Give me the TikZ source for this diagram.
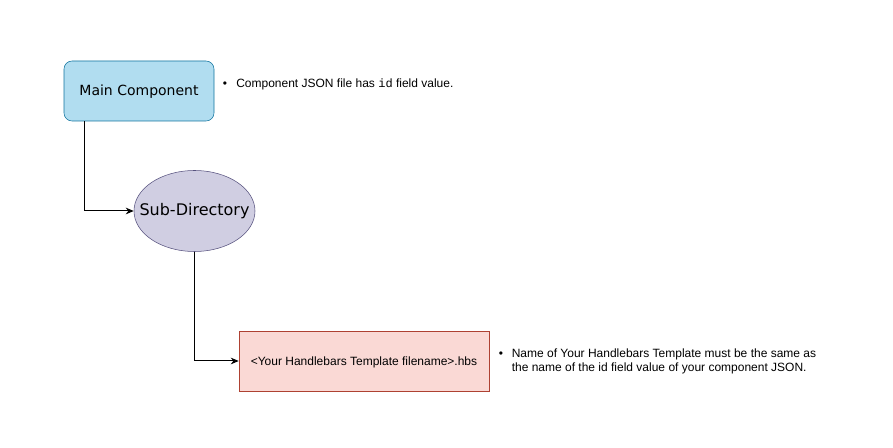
\documentclass[tikz,border=0pt]{standalone}
\usepackage{fontspec}
\setmainfont{Liberation Sans}
\newfontfamily\dejavu{DejaVu Sans}
\newfontfamily\monofont{Liberation Mono}
\usetikzlibrary{shapes.geometric,arrows.meta}
\definecolor{bluefill}{HTML}{B1DDF0}
\definecolor{bluedraw}{HTML}{10739E}
\definecolor{purpfill}{HTML}{D0CEE2}
\definecolor{purpdraw}{HTML}{56517E}
\definecolor{redfill}{HTML}{FAD9D5}
\definecolor{reddraw}{HTML}{AE4132}
\tikzset{
  mainbox/.style={draw=bluedraw,fill=bluefill,rounded corners=6pt,minimum width=112.5pt,minimum height=45pt,inner sep=0pt,
    font=\dejavu\fontsize{10.5}{12}\selectfont,text height=0.73em,text depth=0pt},
  subell/.style={ellipse,draw=purpdraw,fill=purpfill,minimum width=90.75pt,minimum height=60.75pt,inner sep=0pt,
    font=\dejavu\fontsize{12}{14}\selectfont,text height=0.73em,text depth=0pt},
  hbsbox/.style={draw=reddraw,fill=redfill,minimum width=187.5pt,minimum height=45pt,inner sep=0pt,
    font=\fontsize{9}{11}\selectfont,text height=0.72em,text depth=0pt},
  note/.style={anchor=base west,align=left,inner sep=0pt,font=\fontsize{9}{10.9}\selectfont},
  bul/.style={anchor=base,inner sep=0pt,font=\fontsize{9}{10.9}\selectfont},
  conn/.style={draw=black,line width=0.75pt,-{Stealth[length=6pt,width=5pt]}},
}
\begin{document}
\begin{tikzpicture}[x=0.75pt,y=-0.75pt]
\useasboundingbox (0,0) rectangle (893,448);
\node[mainbox] (main) at (139,91) {Main Component};
\node[subell] (sub) at (194.5,211) {\makebox[0pt]{Sub-Directory}};
\node[hbsbox] (hbs) at (364,361) {<Your Handlebars Template filename>.hbs};
\coordinate (c1) at (84,211);
\coordinate (c2) at (194.5,361);
\draw[conn] (main.south -| c1) -- (c1) -- (sub.west);
\draw[conn] (sub.south) -- (c2) -- (hbs.west);
\node[bul] (b1) at (225,88) {\textbullet};
\node[note] (n1) at (236,88) {Component JSON file has {\monofont id} field value.};
\node[bul] (b2) at (501,357.5) {\textbullet};
\node[note] (n2) at (511.5,372) {Name of Your Handlebars Template must be the same as\\the name of the id field value of your component JSON.};
\end{tikzpicture}
\end{document}
